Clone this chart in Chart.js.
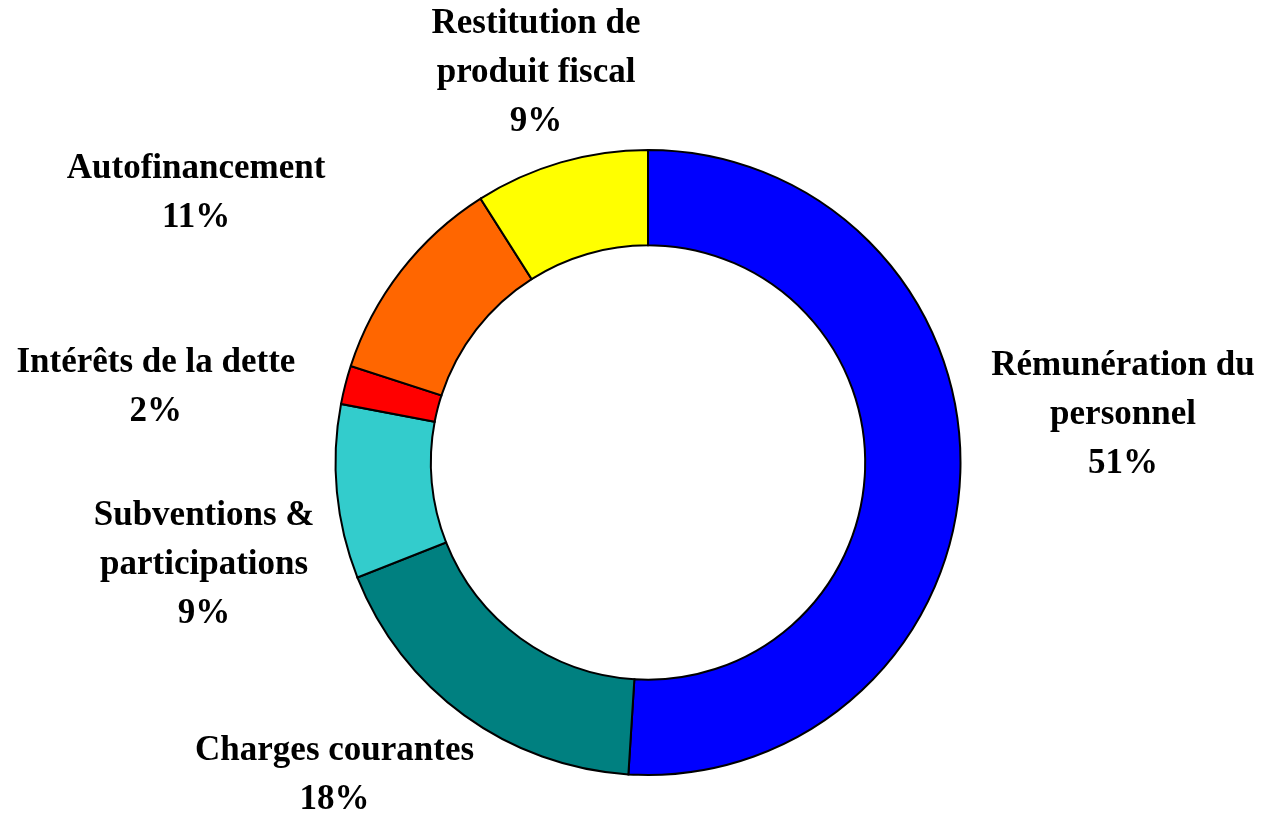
<!DOCTYPE html>
<html>
<head>
<meta charset="utf-8">
<script src="https://cdn.jsdelivr.net/npm/chart.js@4.4.0/dist/chart.umd.min.js"></script>
<style>
    html, body { margin: 0; padding: 0; background: #ffffff; }
    #wrap { width: 1263px; height: 815px; position: relative; }
</style>
</head>
<body>
<div id="wrap"><canvas id="donut"></canvas></div>
<script>
// Données (sens horaire depuis midi)
const categories = [
    ['Rémunération du', 'personnel'],
    ['Charges courantes'],
    ['Subventions &', 'participations'],
    ['Intérêts de la dette'],
    ['Autofinancement'],
    ['Restitution de', 'produit fiscal']
];
const values = [51, 18, 9, 2, 11, 9];
const percentLabels = ['51%', '18%', '9%', '2%', '11%', '9%'];
const sliceColors = ['#0000FF', '#008080', '#33CCCC', '#FF0000', '#FF6600', '#FFFF00'];

// décalages manuels des étiquettes (comme dans Excel)
const labelNudge = [[11, -60], [-36, 10], [-3, 65], [-35, 18], [-87, -40], [10, -6]];

const outsideLabels = {
    id: 'outsideLabels',
    afterDatasetsDraw(chart) {
        const ctx = chart.ctx;
        const meta = chart.getDatasetMeta(0);
        const fontSize = 35;
        const lh = 49;
        const gap = 20;
        ctx.save();
        ctx.font = 'bold ' + fontSize + 'px "Liberation Serif", "Times New Roman", serif';
        ctx.fillStyle = '#000000';
        ctx.textAlign = 'center';
        ctx.textBaseline = 'middle';
        meta.data.forEach(function(arc, i) {
            const lines = categories[i].concat([percentLabels[i]]);
            const mid = (arc.startAngle + arc.endAngle) / 2;
            const dx = Math.cos(mid);
            const dy = Math.sin(mid);
            let w = 0;
            lines.forEach(l => { w = Math.max(w, ctx.measureText(l).width); });
            const h = (lines.length - 1) * lh + fontSize;
            const r = arc.outerRadius + gap;
            const cx = arc.x + dx * r + dx * w / 2 + labelNudge[i][0];
            const cy = arc.y + dy * r + dy * h / 2 + labelNudge[i][1];
            lines.forEach((l, j) => {
                ctx.fillText(l, cx, cy + (j - (lines.length - 1) / 2) * lh);
            });
        });
        ctx.restore();
    }
};

document.addEventListener('DOMContentLoaded', function() {
    const canvas = document.getElementById('donut');
    const ctx = canvas.getContext('2d');

    new Chart(ctx, {
        type: 'doughnut',
        data: {
            labels: categories.map(c => c.join(' ')),
            datasets: [{
                data: values,
                backgroundColor: sliceColors,
                borderColor: '#000000',
                borderWidth: 2,
                borderJoinStyle: 'miter'
            }]
        },
        options: {
            responsive: true,
            maintainAspectRatio: false,
            animation: false,
            cutout: '69.5%',
            layout: { padding: { top: 149, bottom: 39, left: 33, right: 0 } },
            plugins: {
                legend: { display: false },
                tooltip: { enabled: false }
            }
        },
        plugins: [outsideLabels]
    });
});
</script>
</body>
</html>
